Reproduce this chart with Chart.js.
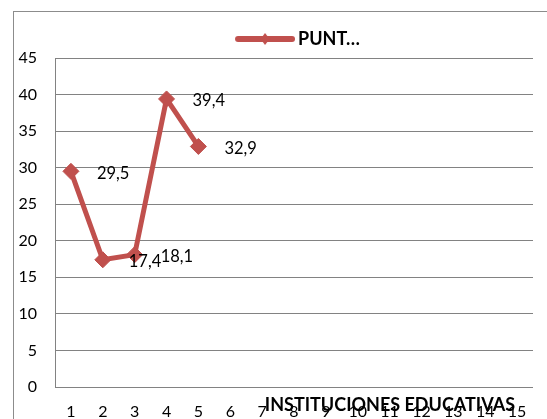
<!DOCTYPE html>
<html>
<head>
<meta charset="utf-8">
<script src="https://cdn.jsdelivr.net/npm/chart.js@4"></script>
<style>
  html, body { margin: 0; padding: 0; background: #fff; overflow: hidden; }
  #wrap { position: relative; width: 547px; height: 419px; }
</style>
</head>
<body>
<div id="wrap"><canvas id="puntChart" width="547" height="419"></canvas></div>
<script>
// chart data
const categories = ['1', '2', '3', '4', '5', '6', '7', '8', '9', '10', '11', '12', '13', '14', '15'];
const puntajes = [29.5, 17.4, 18.1, 39.4, 32.9, null, null, null, null, null, null, null, null, null, null];
const seriesName = 'PUNT…';
const axisTitle = 'INSTITUCIONES EDUCATIVAS';
const yMin = 0;
const yMax = 45;
const yStep = 5;

const lineColor = '#C0504D';
const gridColor = '#828282';
const fontFamily = 'Lato, "Open Sans", sans-serif';
const legendFont = 'bold 18px ' + fontFamily;

// legend marker: thick line + small diamond; blank space on the left pushes
// the legend item to the right like in the original
function legendMarker(boxW) {
    const e = 6;
    const c = document.createElement('canvas');
    c.width = boxW + 2 * e;
    c.height = 14;
    const g = c.getContext('2d');
    const x1 = c.width - 57, x2 = c.width - 3;
    g.strokeStyle = lineColor;
    g.lineWidth = 6;
    g.lineCap = 'round';
    g.beginPath();
    g.moveTo(x1, 7);
    g.lineTo(x2, 7);
    g.stroke();
    const cx = (x1 + x2) / 2;
    g.fillStyle = lineColor;
    g.beginPath();
    g.moveTo(cx, 1);
    g.lineTo(cx + 4.5, 7);
    g.lineTo(cx, 13);
    g.lineTo(cx - 4.5, 7);
    g.closePath();
    g.fill();
    return c;
}

const measureCtx = document.createElement('canvas').getContext('2d');
measureCtx.font = legendFont;
const legendTextW = measureCtx.measureText(seriesName).width;
const legendBoxW = Math.round(41 + legendTextW);

// outer frame + white background
const frame = {
    id: 'frame',
    beforeDraw(chart) {
        const ctx = chart.ctx;
        ctx.save();
        ctx.fillStyle = '#fff';
        ctx.fillRect(0, 0, chart.width, chart.height);
        ctx.strokeStyle = '#8c8c8c';
        ctx.lineWidth = 1;
        ctx.strokeRect(13.5, 11.5, chart.width, chart.height);
        ctx.restore();
    }
};

// value labels right of each point (comma decimals) and the x axis title
const valueLabels = {
    id: 'valueLabels',
    afterDatasetsDraw(chart) {
        const ctx = chart.ctx;
        const meta = chart.getDatasetMeta(0);
        ctx.save();
        ctx.font = '16.5px ' + fontFamily;
        ctx.fillStyle = '#000';
        ctx.textAlign = 'left';
        ctx.textBaseline = 'middle';
        meta.data.forEach((pt, i) => {
            const v = puntajes[i];
            if (v == null) return;
            ctx.fillText(v.toFixed(1).replace('.', ','), pt.x + 26, pt.y + 2);
        });
        ctx.restore();
    },
    afterDraw(chart) {
        const ctx = chart.ctx;
        const area = chart.chartArea;
        ctx.save();
        ctx.font = 'bold 18px ' + fontFamily;
        ctx.fillStyle = '#000';
        ctx.textAlign = 'right';
        ctx.textBaseline = 'middle';
        ctx.fillText(axisTitle, area.right - 18, area.bottom + 18);
        ctx.restore();
    }
};

const ctx = document.getElementById('puntChart').getContext('2d');
const puntChart = new Chart(ctx, {
    type: 'line',
    data: {
        labels: categories,
        datasets: [{
            label: seriesName,
            data: puntajes,
            borderColor: lineColor,
            borderWidth: 5,
            backgroundColor: lineColor,
            pointStyle: 'rectRot',
            pointRadius: 8,
            pointBackgroundColor: lineColor,
            pointBorderColor: lineColor,
            pointBorderWidth: 1,
            tension: 0,
            spanGaps: false
        }]
    },
    options: {
        responsive: false,
        animation: false,
        layout: {
            padding: { left: 13, right: 14, top: 23, bottom: 0 }
        },
        plugins: {
            legend: {
                position: 'top',
                labels: {
                    usePointStyle: true,
                    pointStyle: legendMarker(legendBoxW),
                    pointStyleWidth: legendBoxW,
                    boxHeight: 14,
                    padding: 7,
                    color: '#000',
                    font: { family: fontFamily, size: 18, weight: 'bold' }
                }
            },
            tooltip: { enabled: false }
        },
        scales: {
            x: {
                offset: true,
                grid: { display: false, drawTicks: false },
                border: { display: false },
                ticks: {
                    padding: 15,
                    maxRotation: 0,
                    autoSkip: false,
                    color: '#000',
                    font: { family: fontFamily, size: 16 }
                },
                afterFit(scale) { scale.height = 32; }
            },
            y: {
                min: yMin,
                max: yMax,
                grid: { color: gridColor, drawTicks: false },
                border: { display: true, color: gridColor },
                ticks: {
                    stepSize: yStep,
                    padding: 18,
                    color: '#000',
                    font: { family: fontFamily, size: 16 }
                },
                afterFit(scale) { scale.width = 42; }
            }
        }
    },
    plugins: [frame, valueLabels]
});
</script>
</body>
</html>
